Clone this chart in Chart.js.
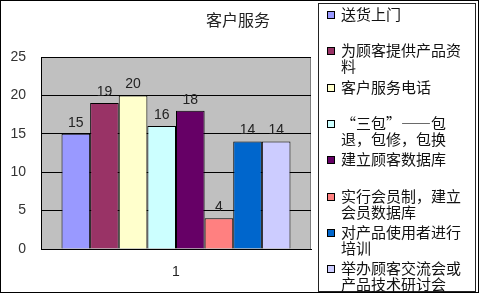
<!DOCTYPE html>
<html lang="zh-CN"><head><meta charset="utf-8">
<script src="https://cdn.jsdelivr.net/npm/chart.js@4/dist/chart.umd.min.js"></script>
<style>
html,body{margin:0;padding:0;background:#fff;}
#wrap{position:relative;width:479px;height:294px;overflow:hidden;background:#fff;}
#c{position:absolute;left:0;top:0;}
#frame{position:absolute;left:0;top:0;width:479px;height:293px;border:1px solid #000;box-sizing:border-box;pointer-events:none;}
#legend{position:absolute;left:318px;top:3px;width:158px;height:289px;border:1px solid #222;box-sizing:border-box;font-family:'Noto Sans CJK SC';font-size:15px;color:#111;background:#fff;}
.mk{position:absolute;left:8px;width:8px;height:8px;border:1px solid #000;box-sizing:border-box;}
.tx{position:absolute;left:22px;line-height:16px;white-space:nowrap;}
</style></head><body>
<div id="wrap"><canvas id="c" width="479" height="294"></canvas><div id="legend"></div><div id="frame"></div></div>
<script>
const categories = ['1'];
const seriesNames = [
  ['送货上门'],
  ['为顾客提供产品资', '料'],
  ['客户服务电话'],
  ['“三包”——包', '退，包修，包换'],
  ['建立顾客数据库'],
  ['实行会员制，建立', '会员数据库'],
  ['对产品使用者进行', '培训'],
  ['举办顾客交流会或', '产品技术研讨会']
];
const seriesValues = [15, 19, 20, 16, 18, 4, 14, 14];
const seriesColors = ['#9999FF', '#993366', '#FFFFCC', '#CCFFFF', '#660066', '#FF8080', '#0066CC', '#CCCCFF'];
const yTicks = [0, 5, 10, 15, 20, 25];
const chartTitle = '客户服务';

// HTML legend
const lg = document.getElementById('legend');
seriesNames.forEach((lines, i) => {
  const cy = 10 + 36.3 * i;
  const mk = document.createElement('div');
  mk.className = 'mk';
  mk.style.top = (cy - 3) + 'px';
  mk.style.background = seriesColors[i];
  lg.appendChild(mk);
  const tx = document.createElement('div');
  tx.className = 'tx';
  tx.style.top = (cy - 8) + 'px';
  tx.innerHTML = lines.map(l => '<div>' + l + '</div>').join('');
  lg.appendChild(tx);
});

const plotBg = {
  id: 'plotBg',
  beforeDraw(chart) {
    const {ctx, chartArea: a} = chart;
    ctx.save();
    ctx.fillStyle = '#C0C0C0';
    ctx.fillRect(a.left, a.top, a.right - a.left, a.bottom - a.top);
    ctx.strokeStyle = '#808080';
    ctx.lineWidth = 1;
    ctx.beginPath();
    ctx.moveTo(Math.round(a.right) - 0.5, a.top);
    ctx.lineTo(Math.round(a.right) - 0.5, a.bottom);
    ctx.stroke();
    ctx.restore();
  },
  afterDraw(chart) {
    const ctx = chart.ctx;
    ctx.save();
    ctx.font = "16px 'Noto Sans CJK SC'";
    ctx.fillStyle = '#222';
    ctx.textAlign = 'center';
    ctx.textBaseline = 'middle';
    ctx.fillText(chartTitle, 238, 20);
    ctx.restore();
  }
};
const valueLabels = {
  id: 'valueLabels',
  afterDatasetsDraw(chart) {
    const ctx = chart.ctx;
    ctx.save();
    ctx.font = '14px "Liberation Sans", Arial, sans-serif';
    ctx.fillStyle = '#222';
    ctx.textAlign = 'center';
    ctx.textBaseline = 'alphabetic';
    chart.data.datasets.forEach((ds, i) => {
      const meta = chart.getDatasetMeta(i);
      meta.data.forEach((el, j) => {
        ctx.fillText(String(ds.data[j]), el.x, el.y - 7);
      });
    });
    ctx.restore();
  }
};

new Chart(document.getElementById('c'), {
  type: 'bar',
  data: {
    labels: categories,
    datasets: seriesNames.map((n, i) => ({
      label: n.join(''),
      data: [seriesValues[i]],
      backgroundColor: seriesColors[i],
      borderColor: '#000',
      borderWidth: 1,
      categoryPercentage: 0.848,
      barPercentage: 1
    }))
  },
  options: {
    responsive: false,
    animation: false,
    devicePixelRatio: 1,
    layout: {padding: {left: 0, right: 168, top: 57, bottom: 0}},
    plugins: {
      legend: {display: false},
      tooltip: {enabled: false},
      title: {display: false}
    },
    scales: {
      x: {
        grid: {display: false, drawTicks: false},
        border: {display: true, color: '#000', width: 1},
        ticks: {color: '#222', font: {family: "'Liberation Sans'", size: 14}, padding: 15},
        afterFit(s) { s.height = 45; }
      },
      y: {
        min: yTicks[0],
        max: yTicks[yTicks.length - 1],
        afterBuildTicks(s) { s.ticks = yTicks.map(v => ({value: v})); },
        grid: {color: '#000', lineWidth: 1, drawTicks: false},
        border: {display: true, color: '#000', width: 1},
        ticks: {color: '#333', font: {family: "'Liberation Sans'", size: 14}, padding: 15},
        afterFit(s) { s.width = 41; }
      }
    }
  },
  plugins: [plotBg, valueLabels]
});
</script>
</body></html>
